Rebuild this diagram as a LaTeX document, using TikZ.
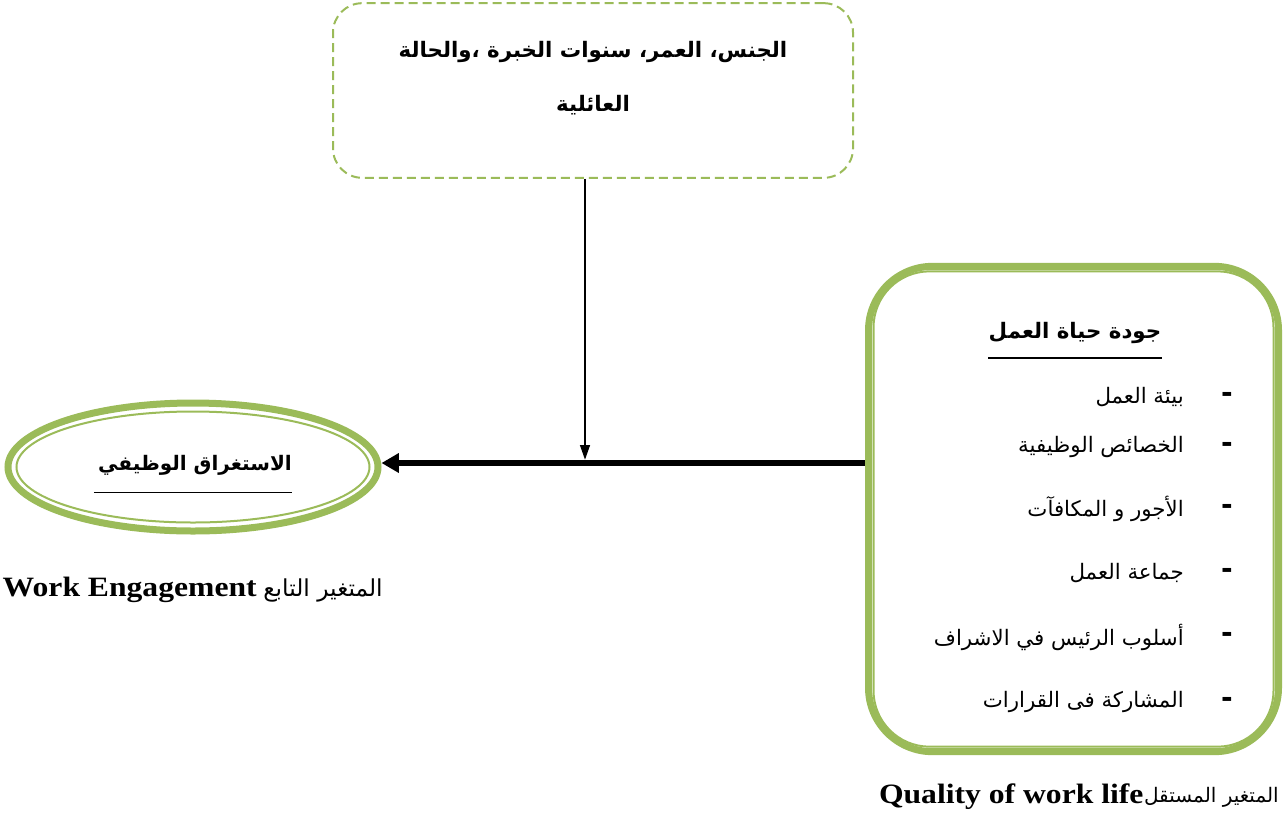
\documentclass[tikz,border=0pt]{standalone}
\usepackage{fontspec}
\usetikzlibrary{shapes.geometric,arrows.meta}
\setmainfont{Liberation Serif}
\newfontfamily\arabicfont[Script=Arabic]{DejaVu Sans}
\newfontfamily\capfont[FakeStretch=1.13]{Liberation Serif}
\TeXXeTstate=1
\definecolor{olivegreen}{HTML}{9BBB59}
\begin{document}
\begin{tikzpicture}[x=0.75pt,y=-0.75pt,
  dashbox/.style={draw=olivegreen,line width=1.5pt,dash pattern=on 6.75pt off 3.75pt,rounded corners=22pt,minimum width=390pt,minimum height=131pt,inner sep=0pt},
  bigbox/.style={draw=olivegreen,line width=5.25pt,rounded corners=48pt,minimum width=307.5pt,minimum height=364pt,inner sep=0pt},
  bigell/.style={draw=olivegreen,line width=5.25pt,ellipse,minimum width=277.5pt,minimum height=96pt,inner sep=0pt},
  thin/.style={draw=olivegreen,line width=1.5pt},
  artitle/.style={font=\arabicfont\bfseries\fontsize{16}{40}\selectfont,inner sep=0pt},
  aritem/.style={font=\arabicfont\fontsize{16}{18}\selectfont,inner sep=0pt,anchor=east},
  dashitem/.style={font=\arabicfont\bfseries\fontsize{21}{22}\selectfont,inner sep=0pt},
  latcap/.style={font=\capfont\bfseries\fontsize{21}{22}\selectfont,inner sep=0pt}
]
\useasboundingbox (0,0) rectangle (1284,818);

% control variables box
\node[dashbox] (ctrl) at (593,90.5) {};
\node[artitle,align=center] (ctrltxt) at (593,78) {\beginR الجنس، العمر، سنوات الخبرة ،والحالة\endR\\\beginR العائلية\endR};

% dependent variable ellipse
\node[bigell] (eng) at (193,467) {};
\draw[thin] (eng.center) ellipse [x radius=176.5, y radius=55.5];
\node[artitle,font=\arabicfont\bfseries\fontsize{15}{18}\selectfont] (engtxt) at (195,465) {\beginR الاستغراق الوظيفي\endR};
\draw[line width=1.2pt] (engtxt.south west) ++(-4,17) coordinate (u1) -- (u1 -| engtxt.south east);
\node[latcap,anchor=east] (engcap) at (257,590) {Work Engagement};
\node[inner sep=0pt,anchor=west,font=\arabicfont\fontsize{17.5}{20}\selectfont] (engcapar) at (263,590) {\beginR المتغير التابع\endR};

% independent variable box
\node[bigbox] (qwl) at (1073.5,509) {};
\draw[thin,rounded corners=42pt] ([shift={(8.5,8.5)}]qwl.north west) rectangle ([shift={(-8.5,-8.5)}]qwl.south east);
\node[artitle] (qwltitle) at (1075,333) {\beginR جودة حياة العمل\endR};
\draw[line width=1.2pt] (qwltitle.south west) ++(0,14) coordinate (u2) -- (u2 -| qwltitle.south east);

\foreach \i/\yy/\txt in {1/397/بيئة العمل,2/447/الخصائص الوظيفية,3/509/الأجور و المكافآت,4/573/جماعة العمل,5/637/أسلوب الرئيس في الاشراف,6/702/المشاركة فى القرارات}{
  \node[dashitem] (d\i) at (1227,\yy) {-};
  \node[aritem] (it\i) at (1184,\yy) {\beginR \txt\endR};
}
\node[inner sep=0pt,anchor=east,font=\arabicfont\fontsize{15}{18}\selectfont] (qwlcapar) at (1279,797) {\beginR المتغير  المستقل\endR};
\node[latcap,anchor=east] (qwlcap) at (qwlcapar.west) {Quality of work life};

% connectors
\coordinate (j) at (585,463);
\draw[line width=4.5pt,-{Triangle[length=13pt,width=14pt]}] (qwl.west |- j) -- (eng.east |- j);
\draw[line width=1pt,-{Triangle[length=11pt,width=7.5pt]}] (ctrl.south -| j) -- ([yshift=2.5pt]j);
\end{tikzpicture}
\end{document}
